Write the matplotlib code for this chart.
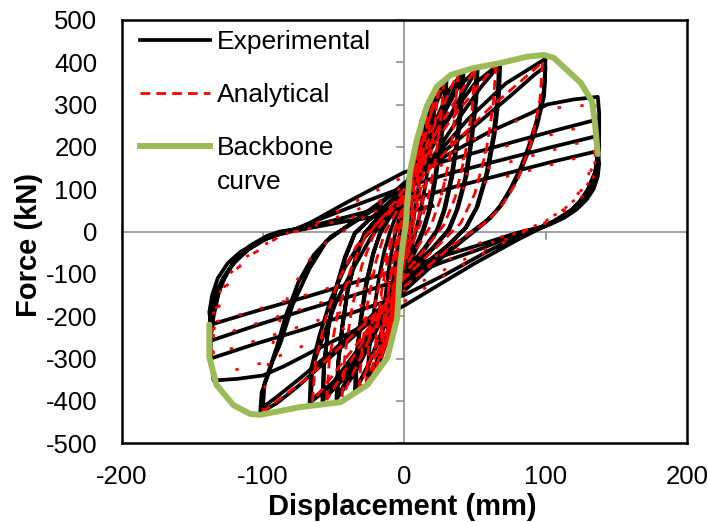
import matplotlib
matplotlib.use("Agg")
import matplotlib.pyplot as plt
from matplotlib.lines import Line2D

plt.rcParams['font.family'] = ['Liberation Sans', 'DejaVu Sans']
plt.rcParams['axes.unicode_minus'] = False

# ---------------- data (displacement mm, force kN) ----------------
# Experimental response, half-cycle by half-cycle (peak to peak)
exp_h01 = [(0, 0), (1.5, 45), (3, 95)]
exp_h02 = [(3, 95), (2, 60), (0.5, 10), (-1, -30), (-3, -75), (-5, -110)]
exp_h03 = [(-5, -110), (-4, -70), (-2, -20), (0, 30), (2, 80), (4, 130), (6, 170)]
exp_h04 = [(6, 170), (5, 130), (3, 70), (1, 20), (-1, -30), (-3, -85), (-5, -140), (-8, -205)]
exp_h05 = [(-8, -205), (-7, -150), (-5, -90), (-3, -35), (-1, 15), (2, 80), (5, 150), (8, 205), (10, 230)]
exp_h06 = [(10, 230), (9, 185), (7, 120), (5, 60), (2, 0), (0, -40), (-3, -100), (-6, -160), (-9, -220), (-12, -265)]
exp_h07 = [(-12, -265), (-11, -210), (-9, -140), (-6, -70), (-4, -20), (-1, 30), (3, 110), (7, 185), (11, 245), (15, 285)]
exp_h08 = [(15, 285), (14, 230), (12, 155), (9, 80), (6, 20), (4, -15), (1, -60), (-3, -120), (-8, -200), (-13, -265), (-17, -305)]
exp_h09 = [(-17, -305), (-16, -245), (-14, -170), (-11, -90), (-8, -30), (-5, 15), (-1, 60), (4, 140), (10, 225), (16, 290), (22, 335)]
exp_h10 = [(22, 335), (21, 275), (18, 185), (15, 110), (11, 40), (8, 0), (4, -50), (0, -100), (-6, -170), (-13, -250), (-20, -310), (-26, -355)]
exp_h11 = [(-26, -355), (-25, -285), (-22, -200), (-18, -110), (-14, -45), (-10, 0), (-5, 45), (0, 90), (6, 160), (14, 245), (22, 315), (30, 360)]
exp_h12 = [(30, 360), (29, 295), (26, 210), (22, 120), (18, 50), (14, 5), (8, -45), (0, -100), (-8, -170), (-17, -250), (-26, -320), (-35, -378)]
exp_r30a = [(-35, -378), (-34, -300), (-31, -210), (-27, -120), (-22, -50), (-17, -5), (-10, 35), (0, 80), (8, 150), (16, 235), (23, 305), (29, 350)]
exp_r30b = [(29, 350), (28, 285), (25, 200), (21, 115), (17, 45), (13, 3), (6, -50), (0, -90), (-8, -160), (-17, -245), (-26, -318), (-34, -370)]
exp_h13 = [(-34, -370), (-34, -305), (-31, -220), (-27, -130), (-22, -55), (-17, 0), (-10, 40), (0, 95), (10, 165), (22, 260), (32, 335), (42, 378)]
exp_h14 = [(42, 378), (41, 310), (38, 220), (34, 130), (29, 55), (24, 5), (15, -40), (5, -80), (0, -100), (-10, -165), (-22, -250), (-35, -335), (-48, -396)]
exp_r42a = [(-48, -396), (-47, -315), (-44, -225), (-40, -135), (-34, -55), (-28, -3), (-18, 35), (-6, 75), (5, 120), (17, 200), (30, 300), (41, 372)]
exp_r42b = [(41, 372), (40, 300), (37, 210), (33, 125), (28, 50), (23, 3), (14, -40), (4, -80), (-4, -110), (-15, -180), (-27, -265), (-38, -335), (-47, -388)]
exp_h15 = [(-47, -388), (-47, -320), (-44, -230), (-40, -140), (-34, -60), (-28, -5), (-18, 35), (-8, 70), (0, 100), (12, 170), (25, 260), (38, 340), (52, 386)]
exp_h16 = [(52, 386), (51, 310), (48, 220), (44, 130), (38, 55), (32, 5), (22, -35), (10, -75), (0, -110), (-12, -175), (-27, -265), (-42, -345), (-58, -400)]
exp_r52a = [(-58, -400), (-57, -320), (-54, -230), (-49, -140), (-42, -60), (-35, -3), (-24, 30), (-12, 60), (0, 95), (14, 165), (30, 260), (42, 330), (51, 380)]
exp_r52b = [(51, 380), (50, 300), (47, 210), (43, 125), (37, 50), (31, 3), (21, -35), (9, -75), (0, -105), (-13, -175), (-28, -265), (-43, -345), (-57, -395)]
exp_h17 = [(-57, -395), (-57, -325), (-54, -235), (-49, -145), (-42, -65), (-35, -5), (-24, 30), (-12, 65), (0, 105), (15, 180), (32, 270), (50, 350), (68, 398)]
exp_h18 = [(68, 398), (67, 320), (64, 230), (59, 140), (52, 60), (44, 10), (32, -30), (18, -70), (0, -120), (-15, -190), (-32, -280), (-50, -360), (-67, -405)]
exp_r68a = [(-67, -405), (-66, -325), (-60, -245), (-52, -160), (-42, -85), (-30, -20), (-18, 20), (0, 85), (18, 165), (36, 255), (54, 340), (67, 392)]
exp_r68b = [(67, 392), (66, 315), (63, 225), (58, 135), (51, 55), (43, 7), (30, -35), (15, -75), (0, -115), (-15, -185), (-32, -275), (-50, -355), (-66, -398)]
exp_h19 = [(-66, -398), (-65, -320), (-57, -244), (-48, -164), (-36, -87), (-24, -16), (-15, 25), (0, 90), (20, 170), (45, 265), (72, 350), (100, 408)]
exp_h20 = [(100, 408), (99, 335), (94, 265), (88, 200), (82, 148), (75, 100), (68, 61), (61, 32), (54, 12), (40, -25), (20, -80),
           (0, -140), (-25, -215), (-50, -290), (-75, -365), (-90, -405), (-102, -428)]
exp_h21 = [(-102, -428), (-101, -380), (-97, -344), (-93, -305), (-88, -267), (-79, -173), (-67, -87), (-55, -23), (-43, 7),
           (-25, 50), (0, 110), (25, 180), (50, 250), (75, 320), (92, 370), (100, 390)]
exp_h22 = [(100, 390), (99, 320), (94, 250), (88, 190), (82, 140), (75, 95), (67, 55), (58, 25), (50, 5), (35, -35), (15, -90),
           (0, -130), (-25, -205), (-50, -280), (-75, -350), (-90, -390), (-100, -415)]
exp_h23 = [(-100, -415), (-99, -360), (-95, -320), (-90, -270), (-84, -200), (-75, -120), (-64, -55), (-52, -12), (-40, 12),
           (-20, 55), (0, 115), (30, 180), (60, 235), (90, 280), (101, 300), (120, 312), (137, 318)]
exp_h24 = [(137, 318), (138, 280), (138, 230), (137, 180), (135, 140), (130, 100), (124, 70), (118, 50), (106, 25), (96, 7),
           (80, -20), (50, -75), (20, -135), (0, -175), (-30, -225), (-60, -275), (-85, -318), (-100, -340), (-118, -348), (-135, -352)]
exp_h25 = [(-135, -352), (-137, -300), (-137, -250), (-135, -200), (-131, -140), (-126, -100), (-120, -68), (-109, -33),
           (-97, -10), (-88, 0), (-74, 7), (-40, 70), (0, 140), (35, 172), (70, 205), (105, 237), (137, 265)]
exp_h26 = [(137, 265), (138, 230), (137, 190), (136, 150), (133, 115), (128, 85), (120, 55), (110, 30), (98, 10), (88, 0),
           (60, -45), (30, -100), (0, -150), (-35, -190), (-70, -230), (-105, -265), (-137, -300)]
exp_h27 = [(-137, -300), (-138, -260), (-137, -220), (-134, -170), (-129, -120), (-122, -80), (-112, -45), (-100, -18),
           (-88, -3), (-78, 5), (-40, 55), (0, 105), (35, 140), (70, 170), (105, 200), (137, 226)]
exp_h28 = [(137, 226), (138, 195), (137, 160), (135, 125), (131, 95), (125, 68), (117, 45), (107, 25), (96, 10), (84, 0),
           (55, -40), (25, -75), (0, -110), (-35, -150), (-70, -185), (-105, -222), (-137, -258)]
exp_h29 = [(-137, -258), (-138, -225), (-137, -190), (-134, -150), (-128, -108), (-120, -72), (-110, -42), (-98, -18),
           (-86, -3), (-75, 5), (-40, 35), (0, 70), (35, 105), (70, 135), (105, 165), (137, 190)]
exp_h30 = [(137, 190), (138, 160), (137, 130), (134, 100), (129, 75), (122, 52), (113, 32), (102, 15), (90, 3), (80, -3),
           (50, -35), (20, -65), (0, -87), (-35, -120), (-70, -155), (-105, -188), (-137, -220)]
exp_h31 = [(-137, -220), (-138, -190), (-136, -150), (-132, -110), (-125, -75), (-116, -48), (-104, -25), (-92, -10),
           (-80, 0), (-40, 25), (0, 45), (20, 60)]

exp_halves = [exp_h01, exp_h02, exp_h03, exp_h04, exp_h05, exp_h06, exp_h07, exp_h08, exp_h09, exp_h10,
              exp_h11, exp_h12, exp_r30a, exp_r30b, exp_h13, exp_h14, exp_r42a, exp_r42b, exp_h15, exp_h16,
              exp_r52a, exp_r52b, exp_h17, exp_h18, exp_r68a, exp_r68b, exp_h19, exp_h20,
              exp_h21, exp_h22, exp_h23, exp_h24, exp_h25, exp_h26, exp_h27, exp_h28, exp_h29, exp_h30, exp_h31]

# Analytical response (small / medium cycles)
ana_h01 = [(0, 0), (2, 60), (4, 120)]
ana_h02 = [(4, 120), (2, 50), (0, -10), (-3, -70), (-5, -120)]
ana_h03 = [(-5, -120), (-3, -50), (0, 20), (3, 100), (7, 190)]
ana_h04 = [(7, 190), (5, 120), (2, 40), (-1, -40), (-4, -120), (-8, -210)]
ana_h05 = [(-8, -210), (-6, -130), (-3, -50), (0, 20), (4, 110), (7, 180), (10, 235)]
ana_h06 = [(10, 235), (8, 165), (5, 80), (2, 10), (-2, -70), (-6, -160), (-11, -255)]
ana_h07 = [(-11, -255), (-9, -170), (-6, -80), (-3, -10), (1, 70), (6, 170), (10, 235), (14, 285)]
ana_h08 = [(14, 285), (12, 205), (9, 120), (5, 40), (1, -30), (-4, -120), (-10, -220), (-16, -300)]
ana_h09 = [(-16, -300), (-14, -210), (-10, -110), (-6, -30), (-1, 50), (5, 150), (12, 250), (20, 328)]
ana_h10 = [(20, 328), (18, 250), (14, 150), (10, 70), (6, 10), (0, -70), (-7, -170), (-14, -260), (-22, -340)]
ana_h11 = [(-22, -340), (-20, -250), (-16, -140), (-11, -50), (-6, 10), (0, 70), (9, 170), (18, 270), (28, 358)]
ana_h12 = [(28, 358), (26, 270), (22, 170), (17, 80), (11, 15), (3, -50), (-6, -130), (-18, -250), (-32, -372)]
ana_h13 = [(-32, -372), (-30, -280), (-26, -170), (-20, -70), (-14, -5), (-5, 50), (5, 110), (20, 240), (38, 376)]
ana_h14 = [(38, 376), (36, 280), (32, 170), (26, 80), (19, 15), (8, -45), (-5, -110), (-20, -220), (-44, -390)]
ana_h15 = [(-44, -390), (-42, -290), (-37, -180), (-30, -80), (-22, -10), (-10, 45), (5, 110), (25, 250), (50, 383)]
ana_h16 = [(50, 383), (48, 290), (43, 180), (36, 80), (28, 15), (15, -40), (0, -100), (-20, -210), (-55, -398)]
ana_h17 = [(-55, -398), (-53, -300), (-47, -190), (-38, -90), (-28, -15), (-15, 35), (0, 100), (30, 250), (65, 395)]
ana_h18 = [(65, 395), (63, 300), (58, 190), (50, 90), (40, 20), (25, -30), (0, -110), (-30, -250), (-65, -402)]
ana_h19 = [(-65, -402), (-63, -310), (-56, -210), (-46, -110), (-34, -35), (-22, 10), (0, 85), (30, 190), (60, 290), (98, 400)]
ana_h20 = [(98, 400), (96, 310), (90, 210), (80, 120), (68, 55), (55, 15), (35, -30), (0, -130), (-35, -240), (-70, -350), (-100, -425)]
ana_x1 = [(12, 265), (10, 190), (7, 110), (3, 30), (-1, -50), (-5, -140), (-9, -225), (-13, -280), (-10, -200), (-6, -110),
          (-2, -30), (2, 50), (6, 140), (9, 210), (12, 265)]
ana_x2 = [(17, 310), (15, 230), (12, 150), (8, 60), (3, -10), (-3, -100), (-9, -200), (-15, -285), (-19, -320), (-16, -240),
          (-12, -150), (-7, -60), (-2, 20), (4, 110), (10, 210), (17, 310)]
ana_x3 = [(24, 345), (22, 260), (18, 160), (13, 70), (8, 5), (1, -60), (-8, -160), (-17, -270), (-27, -355), (-25, -260),
          (-20, -160), (-14, -70), (-8, -5), (0, 60), (10, 170), (18, 270), (24, 345)]
ana_small = [ana_h01, ana_h02, ana_h03, ana_h04, ana_h05, ana_h06, ana_h07, ana_h08, ana_h09, ana_h10,
             ana_h11, ana_h12, ana_h13, ana_h14, ana_h15, ana_h16, ana_h17, ana_h18, ana_h19, ana_h20,
             ana_x1, ana_x2, ana_x3]

# Analytical response (large cycles)
ana_h21 = [(-100, -425), (-98, -340), (-92, -250), (-82, -150), (-68, -70), (-52, -15), (-38, 10), (0, 110), (50, 220), (100, 290), (135, 300)]
ana_h22 = [(135, 300), (136, 240), (134, 170), (128, 110), (116, 60), (100, 20), (85, 0), (40, -80), (0, -165), (-50, -240), (-100, -310), (-135, -340)]
ana_h23 = [(-135, -340), (-136, -280), (-134, -210), (-128, -140), (-116, -80), (-100, -35), (-85, -5), (-70, 5), (-35, 70), (0, 130), (70, 200), (135, 255)]
ana_h24 = [(135, 255), (136, 205), (133, 150), (126, 100), (114, 55), (98, 20), (84, 0), (40, -70), (0, -140), (-70, -220), (-135, -290)]
ana_h25 = [(-135, -290), (-136, -240), (-133, -180), (-126, -120), (-114, -70), (-98, -30), (-84, -5), (-70, 5), (0, 95), (70, 160), (135, 220)]
ana_h26 = [(135, 220), (136, 180), (133, 130), (126, 90), (112, 50), (96, 18), (82, 0), (40, -55), (0, -105), (-70, -180), (-135, -250)]
ana_h27 = [(-135, -250), (-136, -210), (-133, -160), (-125, -105), (-112, -60), (-96, -25), (-82, -3), (-70, 5), (0, 65), (70, 128), (135, 185)]
ana_h28 = [(135, 185), (136, 150), (132, 110), (124, 75), (110, 40), (95, 12), (82, 0), (40, -40), (0, -80), (-70, -150), (-135, -215)]
ana_large = [ana_h21, ana_h22, ana_h23, ana_h24, ana_h25, ana_h26, ana_h27, ana_h28]

# Backbone curve
backbone = [(137, 183), (135, 258), (133, 307), (125, 351), (115, 382), (106, 410), (99, 417), (87, 413), (68, 398),
            (49, 386), (33, 370), (23, 342), (16, 296), (9, 218), (4, 140), (2, 61), (1, 14), (-1, -30), (-3, -87),
            (-5, -204), (-12, -298), (-26, -362), (-45, -403), (-74, -415), (-102, -433), (-109, -431), (-121, -410),
            (-133, -362), (-138, -297), (-138, -220)]

x_ticks = [-200, -100, 0, 100, 200]
y_ticks = [-500, -400, -300, -200, -100, 0, 100, 200, 300, 400, 500]

# ---------------- figure ----------------
fig = plt.figure(figsize=(7.08, 5.22), dpi=100)
pos = [0.172, 0.151, 0.798, 0.811]
ax0 = fig.add_axes(pos)          # gray zero axes (underneath)
ax = fig.add_axes(pos)           # main axes
ax.set_zorder(2)
ax0.set_zorder(1)
ax.patch.set_visible(False)

gray = '#868686'
for a in (ax0, ax):
    a.set_xlim(-200, 200)
    a.set_ylim(-500, 500)
    a.set_xticks(x_ticks)
    a.set_yticks(y_ticks)

for s in ('top', 'right'):
    ax0.spines[s].set_visible(False)
ax0.spines['left'].set_position(('data', 0))
ax0.spines['bottom'].set_position(('data', 0))
for s in ('left', 'bottom'):
    ax0.spines[s].set_color(gray)
    ax0.spines[s].set_linewidth(1.1)
ax0.tick_params(direction='out', length=5.5, width=1.1, color=gray, labelleft=False, labelbottom=False)

exp_x = [p[0] for h in exp_halves for p in h]
exp_y = [p[1] for h in exp_halves for p in h]
ax.plot(exp_x, exp_y, color='black', lw=2.7, solid_joinstyle='round', zorder=2)

for h in ana_small:
    ax.plot([p[0] for p in h], [p[1] for p in h], color='#FF0000', lw=2.0, dashes=(3.5, 2.2), zorder=3)
for h in ana_large:
    ax.plot([p[0] for p in h], [p[1] for p in h], color='#FF0000', lw=2.0, dashes=(1.2, 7), zorder=3)

ax.plot([p[0] for p in backbone], [p[1] for p in backbone], color='#9BBB59', lw=4.3,
        solid_joinstyle='round', solid_capstyle='round', zorder=4)

for s in ax.spines.values():
    s.set_linewidth(1.8)
    s.set_color('black')
ax.tick_params(length=0, labelsize=18.5)
ax.tick_params(axis='y', pad=17.5)
ax.tick_params(axis='x', pad=16)
ax.set_xlabel('Displacement (mm)', fontsize=21, fontweight='bold')
ax.set_ylabel('Force (kN)', fontsize=21, fontweight='bold')
ax.xaxis.set_label_coords(0.497, -0.118)
ax.yaxis.set_label_coords(-0.14, 0.468)

handles = [Line2D([], [], color='black', lw=2.7),
           Line2D([], [], color='#FF0000', lw=2.0, dashes=(3.5, 2.2)),
           Line2D([], [], color='#9BBB59', lw=4.3)]
leg = ax.legend(handles, ['Experimental', 'Analytical', 'Backbone'], loc='upper left',
                bbox_to_anchor=(0.032, 0.975), frameon=False, fontsize=19, handlelength=2.65,
                handletextpad=0.27, labelspacing=1.1, borderaxespad=0, borderpad=0)
ax.text(0.168, 0.618, 'curve', transform=ax.transAxes, fontsize=19, va='center', ha='left')

fig.savefig('out.png', dpi=100)
